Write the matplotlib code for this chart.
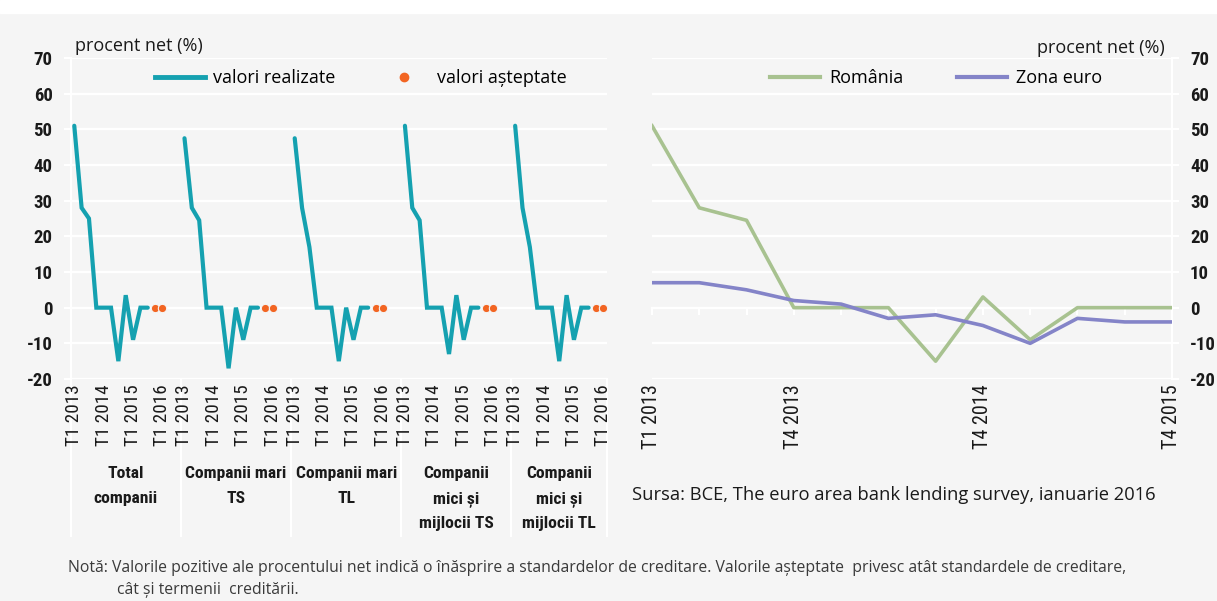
import numpy as np
import matplotlib.pyplot as plt
from matplotlib import font_manager as fm
from matplotlib.patches import Rectangle
from matplotlib.lines import Line2D
import matplotlib.transforms as mtransforms

# date - panoul stang (procent net, pe grupe de companii)
grupuri = ["Total\ncompanii", "Companii mari\nTS", "Companii mari\nTL",
           "Companii\nmici și\nmijlocii TS", "Companii\nmici și\nmijlocii TL"]
trimestre = ["T1 2013", "T2 2013", "T3 2013", "T4 2013",
             "T1 2014", "T2 2014", "T3 2014", "T4 2014",
             "T1 2015", "T2 2015", "T3 2015", "T4 2015", "T1 2016"]
realizate = [
    [51, 28, 25, 0, 0, 0, -15, 3.5, -9, 0, 0],
    [47.5, 28, 24.5, 0, 0, 0, -17, 0, -9, 0, 0],
    [47.5, 28, 17, 0, 0, 0, -15, 0, -9, 0, 0],
    [51, 28, 24.5, 0, 0, 0, -13, 3.5, -9, 0, 0],
    [51, 28, 17, 0, 0, 0, -15, 3.5, -9, 0, 0],
]
asteptate = [
    [0, 0],
    [0, 0],
    [0, 0],
    [0, 0],
    [0, 0],
]

# date - panoul drept
trim_dr = ["T1 2013", "T2 2013", "T3 2013", "T4 2013",
           "T1 2014", "T2 2014", "T3 2014", "T4 2014",
           "T1 2015", "T2 2015", "T3 2015", "T4 2015"]
romania = [51, 28, 24.5, 0, 0, 0, -15, 3, -9, 0, 0, 0]
zona_euro = [7, 7, 5, 2, 1, -3, -2, -5, -10, -3, -4, -4]

plt.rcParams['axes.unicode_minus'] = False

BG = '#f5f5f5'
TEAL = '#15a1b0'
ORANGE = '#f26522'
GREEN = '#a8c290'
PURPLE = '#8484c8'
SANS = ['Open Sans', 'DejaVu Sans']

# font ingust, daca exista unul instalat
fonturi = fm.fontManager.ttflist
nume_fonturi = {f.name for f in fonturi}
NARROW, STRETCH, SCALE = None, 'normal', 1.0
for cand in ['Liberation Sans Narrow', 'Roboto Condensed', 'Open Sans Condensed',
             'DejaVu Sans Condensed', 'Noto Sans Condensed', 'Arial Narrow']:
    if cand in nume_fonturi:
        NARROW = [cand, 'DejaVu Sans']
        break
if NARROW is None:
    for f in fonturi:
        if f.name in ('DejaVu Sans', 'Noto Sans', 'Open Sans') and \
                str(f.stretch) in ('condensed', 'semi-condensed', '500', '700'):
            NARROW, STRETCH = [f.name, 'DejaVu Sans'], 'condensed'
            break
if NARROW is None:
    NARROW, SCALE = ['Roboto', 'DejaVu Sans'], 0.92


def ingust(t, size, weight='normal'):
    t.set_family(NARROW)
    t.set_fontstretch(STRETCH)
    t.set_fontsize(size * SCALE)
    t.set_fontweight(weight)
    t.set_color('#1a1a1a')


W, H = 1217, 601
fig = plt.figure(figsize=(W / 100, H / 100), dpi=100)
fig.patch.set_facecolor(BG)
fig.patches.append(Rectangle((0, 1 - 13 / H), 1, 13 / H, transform=fig.transFigure,
                             color='white', zorder=0))

ybot, ytop = 379, 58
ax = fig.add_axes([70.6 / W, (H - ybot) / H, (607 - 70.6) / W, (ybot - ytop) / H])
ax2 = fig.add_axes([652 / W, (H - ybot) / H, 520 / W, (ybot - ytop) / H])

for a in (ax, ax2):
    a.set_facecolor(BG)
    a.set_ylim(-20, 70)
    a.set_yticks(np.arange(-20, 71, 10))
    a.grid(axis='y', color='white', lw=1.6)
    a.set_axisbelow(True)
    for s in a.spines.values():
        s.set_visible(False)
    a.tick_params(axis='y', direction='out', length=5, width=1.5, color='white',
                  pad=8)

# ---- panoul stang
pas = 15
n = len(trimestre)
for g in range(len(grupuri)):
    x0 = g * pas
    xr = x0 + np.arange(len(realizate[g]))
    xa = x0 + len(realizate[g]) + np.arange(len(asteptate[g]))
    ax.plot(xr, realizate[g], color=TEAL, lw=3, solid_capstyle='round',
            solid_joinstyle='miter', zorder=3)
    ax.plot(xa, asteptate[g], 'o', color=ORANGE, ms=6, mec=BG, mew=0.8,
            ls='none', zorder=4)

ax.set_xlim(-0.5, (len(grupuri) - 1) * pas + n - 0.5)
ax.spines['left'].set_visible(True)
ax.spines['left'].set_color('white')
ax.spines['left'].set_linewidth(1.5)

xt, xl = [], []
for g in range(len(grupuri)):
    for k in range(0, n, 4):
        xt.append(g * pas + k)
        xl.append(trimestre[k])
ax.set_xticks(xt)
ax.set_xticklabels(xl, rotation=90)
ax.tick_params(axis='x', length=0, pad=4)
for t in ax.get_xticklabels():
    ingust(t, 13.8)
for t in ax.get_yticklabels():
    ingust(t, 13.5, 'bold')

trans = mtransforms.blended_transform_factory(ax.transData, ax.transAxes)
limite = [-0.5] + [g * pas - 0.5 for g in range(1, len(grupuri))] + \
         [(len(grupuri) - 1) * pas + n - 0.5]
for b in limite:
    ax.add_line(Line2D([b, b], [0, -0.49], transform=trans, color='white',
                       lw=1.5, clip_on=False, zorder=0.3))
for g, nume in enumerate(grupuri):
    cx = (limite[g] + limite[g + 1]) / 2
    t = ax.text(cx, -0.272, nume, transform=trans, ha='center', va='top',
                linespacing=1.8)
    ingust(t, 12.6, 'semibold')

ax.legend(handles=[Line2D([], [], color=TEAL, lw=3.5),
                   Line2D([], [], color=ORANGE, marker='o', ms=6, ls='none')],
          labels=['valori realizate', 'valori așteptate'], ncol=2, frameon=False,
          loc='center left', bbox_to_anchor=(155 / W, 1 - 78 / H),
          bbox_transform=fig.transFigure, borderaxespad=0, borderpad=0,
          handlelength=2.77, handletextpad=0.45, columnspacing=2.4,
          prop={'family': SANS, 'size': 13})

# ---- panoul drept
x2 = np.arange(len(trim_dr))
ax2.plot(x2, romania, color=GREEN, lw=2.6, zorder=3)
ax2.plot(x2, zona_euro, color=PURPLE, lw=2.6, zorder=3)
ax2.set_xlim(0, len(trim_dr) - 1)
ax2.yaxis.tick_right()
ax2.spines['right'].set_visible(True)
ax2.spines['right'].set_color('white')
ax2.spines['right'].set_linewidth(1.5)
ax2.spines['bottom'].set_visible(True)
ax2.spines['bottom'].set_position(('data', 0))
ax2.spines['bottom'].set_color('white')
ax2.spines['bottom'].set_linewidth(1.6)
ax2.set_xticks(x2)
ax2.tick_params(axis='x', direction='out', length=5, width=1.5, color='white',
                labelbottom=False)
for t in ax2.get_yticklabels():
    ingust(t, 13.5, 'bold')

sec = ax2.secondary_xaxis('bottom')
pozitii = [0, 3, 7, 11]
sec.set_xticks(pozitii)
sec.set_xticklabels([trim_dr[i] for i in pozitii], rotation=90)
sec.tick_params(length=0, pad=4)
for t in sec.get_xticklabels():
    ingust(t, 14.5)
for s in sec.spines.values():
    s.set_visible(False)

ax2.legend(handles=[Line2D([], [], color=GREEN, lw=3),
                    Line2D([], [], color=PURPLE, lw=3)],
           labels=['România', 'Zona euro'], ncol=2, frameon=False,
           loc='center left', bbox_to_anchor=(770 / W, 1 - 78 / H),
           bbox_transform=fig.transFigure, borderaxespad=0, borderpad=0,
           handlelength=2.77, handletextpad=0.5, columnspacing=3.0,
           prop={'family': SANS, 'size': 13})

# ---- texte
fig.text(75 / W, 1 - 46 / H, 'procent net (%)', family=SANS, fontsize=13,
         color='#1a1a1a', va='center')
fig.text(1165 / W, 1 - 48 / H, 'procent net (%)', family=SANS, fontsize=13,
         color='#1a1a1a', va='center', ha='right')
fig.text(632 / W, 1 - 495 / H,
         'Sursa: BCE, The euro area bank lending survey, ianuarie 2016',
         family=SANS, fontsize=13.2, color='#1a1a1a', va='center')
fig.text(68 / W, 1 - 568 / H,
         'Notă: Valorile pozitive ale procentului net indică o înăsprire a '
         'standardelor de creditare. Valorile așteptate  privesc atât standardele '
         'de creditare,', family=SANS, fontsize=11.3, color='#3a3a3a', va='center')
fig.text(117 / W, 1 - 590 / H, 'cât și termenii  creditării.', family=SANS,
         fontsize=11.3, color='#3a3a3a', va='center')

fig.savefig('out.png', dpi=100, facecolor=fig.get_facecolor())
